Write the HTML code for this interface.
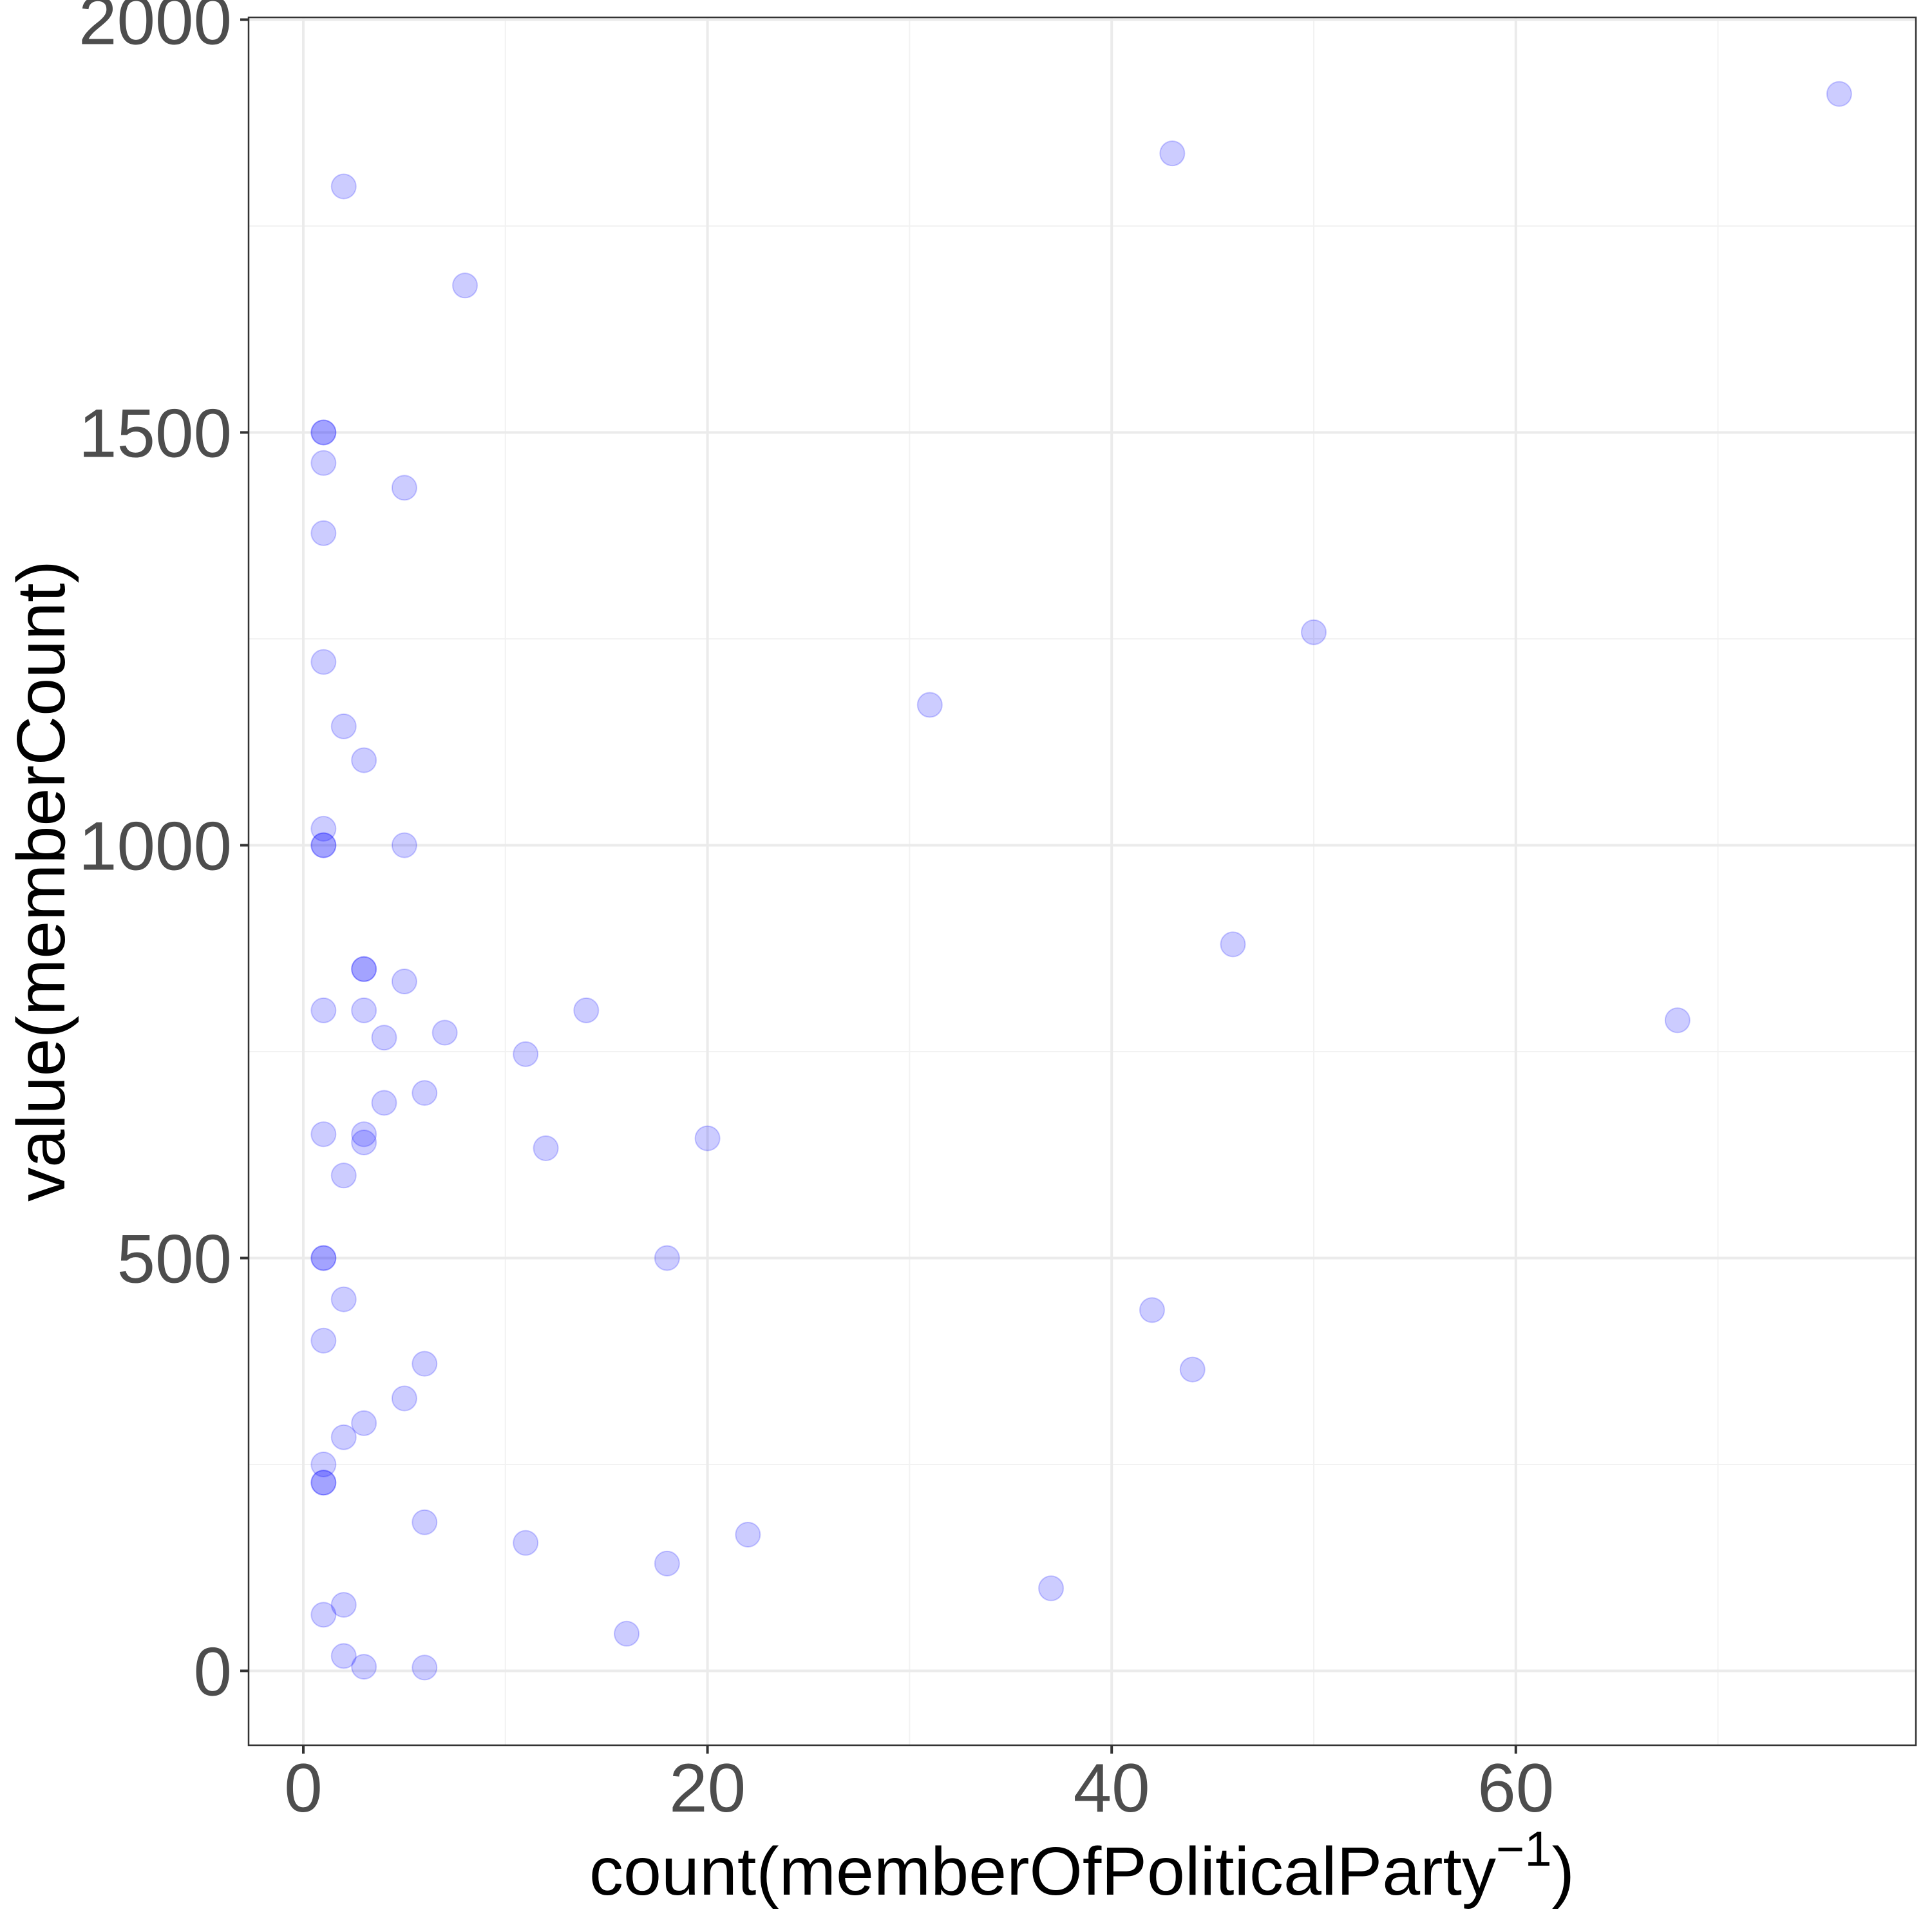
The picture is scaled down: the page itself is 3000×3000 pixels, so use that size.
<!DOCTYPE html>
<html><head><meta charset="utf-8"><style>
html,body{margin:0;padding:0;background:#fff;}
svg{display:block;font-family:"Liberation Sans",sans-serif;}
</style></head><body>
<svg id="chart" width="3000" height="3000" viewBox="0 0 3000 3000">
<rect x="0" y="0" width="3000" height="3000" fill="#fff"/>
<g id="grid"></g>
<g id="points"></g>
<rect x="386" y="27" width="2589" height="2683" fill="none" stroke="#333" stroke-width="2.5"/>
<g id="axes"></g>
<text x="1680" y="2942" font-size="106" text-anchor="middle" fill="#000">count(memberOfPoliticalParty<tspan dy="-45" font-size="76">−1</tspan><tspan dy="45">)</tspan></text>
<text transform="translate(100,1368) rotate(-90)" font-size="106" text-anchor="middle" fill="#000">value(memberCount)</text>
</svg>
<script>
const xs = [76,43,2,8,1,1,1,5,1,50,1,31,2,3,1,1,1,5,46,3,3,5,1,3,14,68,7,4,11,6,4,1,3,3,20,12,2,1,1,18,2,42,1,44,6,5,3,2,1,1,1,6,22,11,18,37,2,1,16,2,3,6];
const ys = [1910,1838,1798,1678,1500,1500,1463,1433,1378,1258,1222,1170,1144,1103,1020,1000,1000,1000,880,850,850,835,800,800,800,788,773,767,747,700,688,650,650,640,645,633,600,500,500,500,450,437,400,365,372,330,300,283,250,228,228,180,165,155,130,100,80,68,45,18,5,4];
const xTicks = [0,20,40,60];
const xMinor = [10,30,50,70];
const yTicks = [0,500,1000,1500,2000];
const yMinor = [250,750,1250,1750];
const NS="http://www.w3.org/2000/svg";
const X0=386,X1=2975,Y0=27,Y1=2710;
function sx(v){return 471+v*31.38;}
function sy(v){return 2594.5-v*(2594.5-30.5)/2000;}
function mk(tag,attrs,parent){const e=document.createElementNS(NS,tag);for(const k in attrs)e.setAttribute(k,attrs[k]);parent.appendChild(e);return e;}
const grid=document.getElementById('grid'),pts=document.getElementById('points'),axes=document.getElementById('axes');
xMinor.forEach(v=>{const l=mk('line',{x1:sx(v),x2:sx(v),y1:Y0,y2:Y1,stroke:'#f2f2f2','stroke-width':2},grid);

});
yMinor.forEach(v=>{const l=mk('line',{x1:X0,x2:X1,y1:sy(v),y2:sy(v),stroke:'#f2f2f2','stroke-width':2},grid);

});
xTicks.forEach(v=>{const l=mk('line',{x1:sx(v),x2:sx(v),y1:Y0,y2:Y1,stroke:'#ebebeb','stroke-width':4},grid);


const t=mk('line',{x1:sx(v),x2:sx(v),y1:Y1,y2:Y1+13,stroke:'#333','stroke-width':4},axes);


const tx=mk('text',{x:sx(v),y:2813,'font-size':107,'text-anchor':'middle',fill:'#4d4d4d'},axes);tx.textContent=v;

});
yTicks.forEach(v=>{const l=mk('line',{x1:X0,x2:X1,y1:sy(v),y2:sy(v),stroke:'#ebebeb','stroke-width':4},grid);


const t=mk('line',{x1:X0-13,x2:X0,y1:sy(v),y2:sy(v),stroke:'#333','stroke-width':4},axes);


const tx=mk('text',{x:360,y:sy(v)+38,'font-size':107,'text-anchor':'end',fill:'#4d4d4d'},axes);tx.textContent=v;

});
xs.forEach((v,i)=>{const c=mk('circle',{cx:sx(v),cy:sy(ys[i]),r:19,fill:'rgba(0,0,255,0.2)',stroke:'rgba(0,0,255,0.2)','stroke-width':2},pts);

});
</script>
</body></html>
